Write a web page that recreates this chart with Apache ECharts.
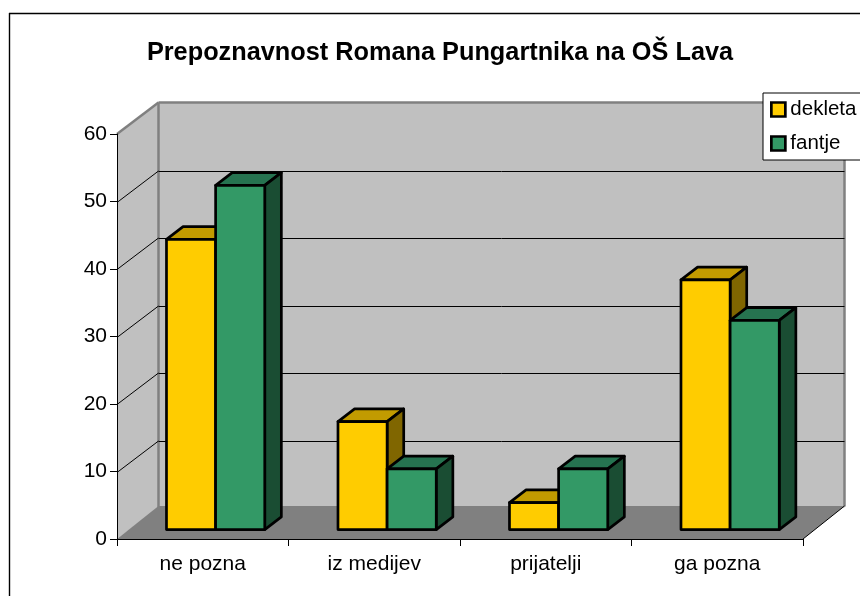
<!DOCTYPE html>
<html>
<head>
<meta charset="utf-8">
<style>html,body{margin:0;padding:0;background:#fff}#c{width:860px;height:596px}</style>
<script src="https://cdn.jsdelivr.net/npm/echarts@6/dist/echarts.min.js"></script>
</head>
<body>
<div id="c"></div>
<script>
var titleText = 'Prepoznavnost Romana Pungartnika na OŠ Lava';
var categories = ['ne pozna', 'iz medijev', 'prijatelji', 'ga pozna'];
var dekleta = [43, 16, 4, 37];
var fantje = [51, 9, 9, 31];
var gridValues = [10, 20, 30, 40, 50];

var DX = 41.5, DY = 31.5;
var FONT = '"Liberation Sans", Arial, sans-serif';
var chart = echarts.init(document.getElementById('c'), null, {renderer: 'canvas'});

function poly(points, fill, stroke, lw) {
  return {type: 'polygon', shape: {points: points},
    style: {fill: fill, stroke: stroke || null, lineWidth: lw || 0, lineJoin: 'round'}};
}
function line(x1, y1, x2, y2, color, lw) {
  return {type: 'line', shape: {x1: x1, y1: y1, x2: x2, y2: y2},
    style: {stroke: color, lineWidth: lw, fill: null}};
}

function renderWalls(params, api) {
  var c = params.coordSys;
  var x0 = c.x, x1 = c.x + c.width, yT = c.y, yB = c.y + c.height;
  var bx0 = x0 + DX, bx1 = x1 + DX, byT = yT - DY, byB = yB - DY;
  return {type: 'group', children: [
    poly([[bx0, byT], [bx1, byT], [bx1, byB], [bx0, byB]], '#C0C0C0'),
    poly([[x0, yT], [bx0, byT], [bx0, byB], [x0, yB]], '#C0C0C0'),
    poly([[x0, yB], [x1, yB], [bx1, byB - 1.5], [bx0, byB - 1.5]], '#808080'),
    line(x0, yT, bx0, byT, '#808080', 2.5),
    line(bx0, byT, bx1, byT, '#808080', 2.5),
    line(bx0, byT, bx0, byB, '#808080', 2.5),
    line(bx1, byT, bx1, byB - 1, '#808080', 2.5),
    line(x1, yB, bx1, byB - 1.5, '#000', 1)
  ]};
}
function renderGrid(params, api) {
  var c = params.coordSys;
  var y = Math.round(api.coord([0, api.value(0)])[1]) + 0.5;
  return {type: 'group', children: [
    line(c.x, y, c.x + DX, y - DY, '#000', 1),
    line(c.x + DX, Math.round(y - DY) + 0.5, c.x + c.width + DX, Math.round(y - DY) + 0.5, '#000', 1)
  ]};
}
function barRenderer(seriesIndex, front, top, side) {
  return function (params, api) {
    var idx = api.value(0), val = api.value(1);
    var pTop = api.coord([idx, val]), pBase = api.coord([idx, 0]);
    var catW = api.size([1, 0])[0];
    var w = catW * 0.2865;
    var sx = DX * 0.31, sy = DY * 0.30;
    var dx = DX * 0.40, dy = DY * 0.40;
    var l = pTop[0] - w + seriesIndex * w + sx;
    var r = l + w;
    var t = pTop[1] - sy, b = pBase[1] - sy;
    var lw = 2.7;
    return {type: 'group', children: [
      poly([[l, t], [r, t], [r + dx, t - dy], [l + dx, t - dy]], top, '#000', lw),
      poly([[r, t], [r + dx, t - dy], [r + dx, b - dy], [r, b]], side, '#000', lw),
      poly([[l, t], [r, t], [r, b], [l, b]], front, '#000', lw)
    ]};
  };
}

chart.setOption({
  animation: false,
  backgroundColor: '#fff',
  textStyle: {fontFamily: FONT},
  title: {
    text: titleText, left: 435, top: 36, textAlign: 'center',
    textStyle: {fontFamily: FONT, fontSize: 25.3, fontWeight: 'bold', color: '#000'}
  },
  graphic: [
    {type: 'line', silent: true, z: 0, shape: {x1: 9.5, y1: 13, x2: 9.5, y2: 596}, style: {stroke: '#000', lineWidth: 1.4}},
    {type: 'line', silent: true, z: 0, shape: {x1: 9, y1: 13.5, x2: 860, y2: 13.5}, style: {stroke: '#000', lineWidth: 1.4}}
  ],
  legend: {
    left: 763, top: 93, orient: 'vertical', padding: [6, 8, 6, 7], itemGap: 13,
    itemWidth: 14, itemHeight: 14, icon: 'rect', selectedMode: false,
    backgroundColor: '#fff', borderColor: '#000', borderWidth: 1,
    itemStyle: {borderColor: '#000', borderWidth: 2.7},
    textStyle: {fontFamily: FONT, fontSize: 20.5, color: '#000', padding: [0, 0, 0, 0]},
    data: ['dekleta', 'fantje'], z: 20
  },
  grid: {left: 117, top: 134, width: 686, height: 405, containLabel: false},
  xAxis: {
    type: 'category', data: categories, boundaryGap: true,
    axisLine: {show: true, lineStyle: {color: '#000', width: 1.2}},
    axisTick: {show: true, length: 7, inside: false, lineStyle: {color: '#000'}},
    axisLabel: {color: '#000', fontFamily: FONT, fontSize: 21, margin: 15},
    splitLine: {show: false}, z: 5
  },
  yAxis: {
    type: 'value', min: 0, max: 60, interval: 10,
    axisLine: {show: true, lineStyle: {color: '#000', width: 1}},
    axisTick: {show: true, length: 7, lineStyle: {color: '#000'}},
    axisLabel: {color: '#000', fontFamily: FONT, fontSize: 21, margin: 10},
    splitLine: {show: false}, z: 5
  },
  series: [
    {name: 'walls', type: 'custom', z: 1, silent: true, clip: false, renderItem: renderWalls, data: [[0]], encode: {x: 0}, tooltip: {show: false}},
    {name: 'grid', type: 'custom', z: 2, silent: true, clip: false, renderItem: renderGrid, data: gridValues.map(function (v) { return [v]; }), encode: {y: 0}},
    {name: 'dekleta', type: 'custom', z: 3, clip: false, itemStyle: {color: '#FFCC00'},
      renderItem: barRenderer(0, '#FFCC00', '#C29B00', '#806600'),
      data: dekleta.map(function (v, i) { return [i, v]; }), encode: {x: 0, y: 1}},
    {name: 'fantje', type: 'custom', z: 4, clip: false, itemStyle: {color: '#339966'},
      renderItem: barRenderer(1, '#339966', '#267350', '#1A4D33'),
      data: fantje.map(function (v, i) { return [i, v]; }), encode: {x: 0, y: 1}}
  ]
});
</script>
</body>
</html>
